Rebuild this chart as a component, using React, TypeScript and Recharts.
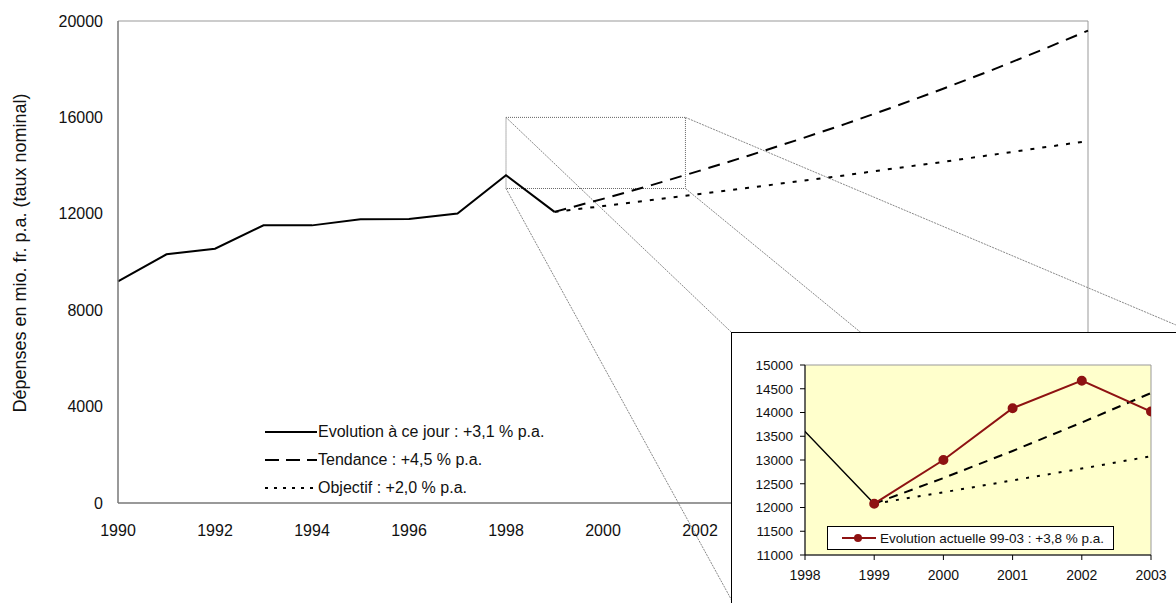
import React from 'react';
import {
  LineChart,
  Line,
  XAxis,
  YAxis,
  ReferenceArea,
  ReferenceLine,
  Legend
} from 'recharts';

const years = [
  1990, 1991, 1992, 1993, 1994, 1995, 1996, 1997, 1998, 1999, 2000,
  2001, 2002, 2003, 2004, 2005, 2006, 2007, 2008, 2009, 2010
];
const evolution = [
  9200, 10320, 10550, 11520, 11520, 11770, 11780, 12010, 13600, 12080,
  null, null, null, null, null, null, null, null, null, null, null
];
const tendance = [
  null, null, null, null, null, null, null, null, null, 12080, 12620,
  13190, 13790, 14410, 15060, 15730, 16440, 17180, 17950, 18760, 19600
];
const objectif = [
  null, null, null, null, null, null, null, null, null, 12080, 12320,
  12570, 12820, 13080, 13340, 13600, 13880, 14150, 14440, 14730, 15020
];
const actuelle = [
  null, null, null, null, null, null, null, null, null, 12080, 13000,
  14090, 14670, 14020, null, null, null, null, null, null, null
];

// only the ticks that are not hidden behind the inset
const xTicks = [1990, 1992, 1994, 1996, 1998, 2000, 2002];
const yTicks = [0, 4000, 8000, 12000, 16000, 20000];
const insetXTicks = [1998, 1999, 2000, 2001, 2002, 2003];
const insetYTicks = [11000, 11500, 12000, 12500, 13000, 13500, 14000, 14500, 15000];

const labelEvolution = 'Evolution à ce jour : +3,1 % p.a.';
const labelTendance = 'Tendance : +4,5 % p.a.';
const labelObjectif = 'Objectif : +2,0 % p.a.';
const labelActuelle = 'Evolution actuelle 99-03 : +3,8 % p.a.';
const yTitle = 'Dépenses en mio. fr. p.a. (taux nominal)';

const data = years.map((year, i) => ({
  year,
  evolution: evolution[i],
  tendance: tendance[i],
  objectif: objectif[i],
  actuelle: actuelle[i]
}));

const FONT = '"Liberation Sans", Arial, sans-serif';
const RED = '#8e1212';

const legendOrder = ['evolution', 'tendance', 'objectif'];
const dashes: Record<string, string | undefined> = {
  evolution: undefined,
  tendance: '14 7',
  objectif: '3 6'
};

const MainLegend = (props: any) => {
  const items = legendOrder
    .map((k) => (props.payload || []).find((e: any) => e.dataKey === k))
    .filter(Boolean);
  return (
    <div style={{ fontFamily: FONT, fontSize: 16, color: '#111' }}>
      {items.map((entry: any) => (
        <div key={entry.dataKey} style={{ display: 'flex', alignItems: 'center', height: 28 }}>
          <svg width={52} height={10} style={{ marginRight: 1 }}>
            <line x1={0} y1={5} x2={52} y2={5} stroke="#000" strokeWidth={2}
              strokeDasharray={dashes[entry.dataKey]} />
          </svg>
          <span>{entry.value}</span>
        </div>
      ))}
    </div>
  );
};

const InsetLegend = (props: any) => (
  <div>
    {(props.payload || []).filter((e: any) => e.dataKey === 'actuelle').map((entry: any) => (
      <div key={entry.dataKey} style={{
        boxSizing: 'border-box', width: 287, height: 24, border: '1px solid #000',
        background: '#fff', display: 'flex', alignItems: 'center', paddingLeft: 14,
        fontFamily: FONT, fontSize: 13.5, color: '#111'
      }}>
        <svg width={36} height={10} style={{ marginRight: 2 }}>
          <line x1={0} y1={5} x2={34} y2={5} stroke={RED} strokeWidth={2} />
          <circle cx={16} cy={5} r={4} fill={RED} />
        </svg>
        <span>{entry.value}</span>
      </div>
    ))}
  </div>
);

export default function App() {
  return (
    <div style={{ position: 'absolute', left: 0, top: 0, width: 1176, height: 603, overflow: 'hidden', background: '#fff' }}>
      <LineChart width={1176} height={603} data={data}
        margin={{ top: 21, right: 88, left: 0, bottom: 70 }}>
        <XAxis dataKey="year" type="number" domain={[1990, 2010]} ticks={xTicks}
          height={30} tickLine={false} tickMargin={16}
          axisLine={{ stroke: '#777', strokeWidth: 1.5 }}
          tick={{ fill: '#111', fontSize: 16, fontFamily: FONT }} />
        <YAxis type="number" domain={[0, 20000]} ticks={yTicks} width={118}
          tickLine={false} tickMargin={9}
          axisLine={{ stroke: '#777', strokeWidth: 1.5 }}
          tick={{ fill: '#111', fontSize: 16, fontFamily: FONT }}
          label={{ value: yTitle, angle: -90, position: 'center', dx: -39, dy: -9,
            style: { fill: '#111', fontSize: 18, fontFamily: FONT } }} />
        <ReferenceLine y={20000} stroke="#999" />
        <ReferenceLine x={2010} stroke="#999" />
        <ReferenceArea x1={1998} x2={2001.7} y1={13050} y2={16000}
          fill="none" stroke="#666" strokeDasharray="1 1" />
        <ReferenceLine ifOverflow="visible" stroke="#888" strokeDasharray="2 1"
          segment={[{ x: 1998, y: 16000 }, { x: 2002.64, y: 7100 }]} />
        <ReferenceLine ifOverflow="visible" stroke="#888" strokeDasharray="2 1"
          segment={[{ x: 1998, y: 13050 }, { x: 2002.78, y: -4500 }]} />
        <ReferenceLine ifOverflow="visible" stroke="#888" strokeDasharray="2 1"
          segment={[{ x: 2001.7, y: 16000 }, { x: 2011.81, y: 7390 }]} />
        <ReferenceLine ifOverflow="visible" stroke="#888" strokeDasharray="2 1"
          segment={[{ x: 2001.7, y: 13050 }, { x: 2005.5, y: 6770 }]} />
        <Line dataKey="evolution" name={labelEvolution} stroke="#000" strokeWidth={2}
          dot={false} isAnimationActive={false} />
        <Line dataKey="tendance" name={labelTendance} stroke="#000" strokeWidth={2}
          strokeDasharray="12 8" dot={false} isAnimationActive={false} />
        <Line dataKey="objectif" name={labelObjectif} stroke="#000" strokeWidth={2}
          strokeDasharray="4 8" dot={false} isAnimationActive={false} />
        <Legend layout="vertical" align="center" verticalAlign="middle"
          content={MainLegend}
          wrapperStyle={{ position: 'absolute', left: 265, top: 418, width: 'auto' }} />
      </LineChart>

      <div style={{ position: 'absolute', left: 731, top: 332, width: 468, height: 288,
        border: '1px solid #000', background: '#fff' }}>
        <LineChart width={468} height={288} data={data}
          margin={{ top: 32, right: 49, left: 0, bottom: 36 }}>
          <ReferenceArea x1={1998} x2={2003} y1={11000} y2={15000}
            fill="#FFFFCC" fillOpacity={1} stroke="#999" />
          <XAxis dataKey="year" type="number" domain={[1998, 2003]} ticks={insetXTicks}
            allowDataOverflow height={30} tickSize={5} tickMargin={10}
            axisLine={{ stroke: '#000' }} tickLine={{ stroke: '#000' }}
            tick={{ fill: '#111', fontSize: 14, fontFamily: FONT }} />
          <YAxis type="number" domain={[11000, 15000]} ticks={insetYTicks}
            allowDataOverflow width={73} tickSize={5} tickMargin={7}
            axisLine={{ stroke: '#000' }} tickLine={{ stroke: '#000' }}
            tick={{ fill: '#111', fontSize: 13.5, fontFamily: FONT }} />
          <Line dataKey="evolution" stroke="#000" strokeWidth={1.5} dot={false}
            isAnimationActive={false} />
          <Line dataKey="tendance" stroke="#000" strokeWidth={2} strokeDasharray="9 7"
            dot={false} isAnimationActive={false} />
          <Line dataKey="objectif" stroke="#000" strokeWidth={2} strokeDasharray="3 8"
            dot={false} isAnimationActive={false} />
          <Line dataKey="actuelle" name={labelActuelle} stroke={RED} strokeWidth={2}
            dot={{ r: 4, fill: RED, stroke: RED }} isAnimationActive={false} />
          <Legend layout="vertical" align="center" verticalAlign="middle"
            content={InsetLegend}
            wrapperStyle={{ position: 'absolute', left: 95, top: 193, width: 'auto' }} />
        </LineChart>
      </div>
    </div>
  );
}
